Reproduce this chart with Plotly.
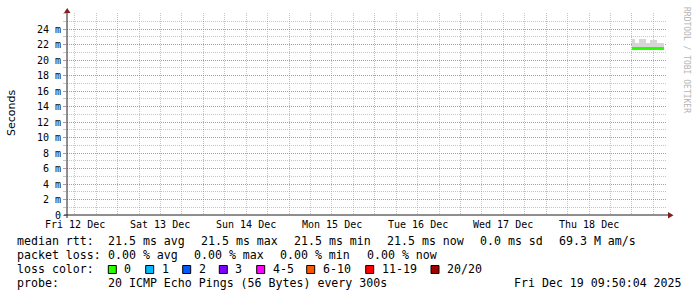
import plotly.graph_objects as go
import pandas as pd

# ---------------- data ----------------
bin_edges = ["2025-12-19 00:00", "2025-12-19 01:00", "2025-12-19 02:00", "2025-12-19 03:00",
             "2025-12-19 04:00", "2025-12-19 05:00", "2025-12-19 06:00", "2025-12-19 07:00",
             "2025-12-19 08:00", "2025-12-19 09:00"]
median_rtt_ms = [21.5, 21.5, 21.5, 21.5, 21.5, 21.5, 21.5, 21.5, 21.5]
smoke_max_ms = [22.8, 22.2, 22.7, 22.7, 22.2, 22.6, 22.6, 22.2, 22.2]

day_labels = ["Fri 12 Dec", "Sat 13 Dec", "Sun 14 Dec", "Mon 15 Dec",
              "Tue 16 Dec", "Wed 17 Dec", "Thu 18 Dec"]
day_label_times = ["2025-12-12 12:00", "2025-12-13 12:00", "2025-12-14 12:00", "2025-12-15 12:00",
                   "2025-12-16 12:00", "2025-12-17 12:00", "2025-12-18 12:00"]
y_tick_vals = [0, 2, 4, 6, 8, 10, 12, 14, 16, 18, 20, 22, 24]
y_tick_text = ["0", "2 m", "4 m", "6 m", "8 m", "10 m", "12 m", "14 m", "16 m",
               "18 m", "20 m", "22 m", "24 m"]

loss_labels = ["0", "1", "2", "3", "4-5", "6-10", "11-19", "20/20"]
loss_colors = ["#26ff00", "#00b8ff", "#0059ff", "#7e00ff", "#ff00ff", "#ff5500", "#ff0000", "#a00000"]

rtt_line = ["21.5 ms avg", "21.5 ms max", "21.5 ms min", "21.5 ms now", "0.0 ms sd", "69.3 M am/s"]
loss_line = ["0.00 % avg", "0.00 % max", "0.00 % min", "0.00 % now"]
probe_text = "20 ICMP Echo Pings (56 Bytes) every 300s"
stamp_text = "Fri Dec 19 09:50:04 2025"

range_end = pd.Timestamp("2025-12-19 09:50:04")
range_start = range_end - pd.Timedelta(days=7)

# ---------------- layout helpers ----------------
L, R, T, B = 67, 667, 13, 215
def px(x):
    return (x - L) / (R - L)
def py(y):
    return (B - y) / (B - T)

MONO = "DejaVu Sans Mono"
edges = pd.to_datetime(bin_edges)
centers = edges[:-1] + (edges[1:] - edges[:-1]) / 2
smoke_h = [m - b for m, b in zip(smoke_max_ms, median_rtt_ms)]

fig = go.Figure()
fig.add_trace(go.Bar(x=centers, y=smoke_h, base=median_rtt_ms, width=3600000,
                     marker=dict(color="#d6d6d6", line=dict(width=0)), showlegend=False))
fig.add_trace(go.Scatter(x=edges, y=median_rtt_ms + [median_rtt_ms[-1]], mode="lines",
                         line=dict(color=loss_colors[0], width=3, shape="hv"), showlegend=False))

grid_gray = "rgba(150,150,150,0.55)"
grid_red = "rgba(230,80,80,0.5)"

fig.update_layout(
    width=697, height=297,
    margin=dict(l=L, r=697 - R, t=T, b=297 - B),
    paper_bgcolor="white", plot_bgcolor="white",
    bargap=0,
    xaxis=dict(type="date", range=[range_start, range_end], tickmode="linear",
               tick0="2025-12-13 00:00", dtick=86400000, showticklabels=False,
               showgrid=True, gridcolor=grid_red, griddash="1px,1px", gridwidth=1,
               minor=dict(dtick=21600000, tick0="2025-12-13 00:00", showgrid=True,
                          gridcolor=grid_gray, griddash="1px,1px", gridwidth=1),
               showline=False, zeroline=False, ticks=""),
    yaxis=dict(range=[0, 26.1], tickmode="array", tickvals=y_tick_vals, ticktext=y_tick_text,
               showgrid=True, gridcolor=grid_red, griddash="1px,1px", gridwidth=1,
               minor=dict(dtick=1, showgrid=True, gridcolor=grid_gray, griddash="1px,1px",
                          ticks="outside", ticklen=3, tickcolor=grid_gray),
               ticks="outside", ticklen=3, tickcolor=grid_red,
               tickfont=dict(family=MONO, size=10, color="black"),
               showline=False, zeroline=False),
    font=dict(family=MONO, color="black"),
)

shapes = []
# axes
shapes.append(dict(type="line", xref="paper", yref="paper", x0=px(67), x1=px(67), y0=py(218), y1=py(12),
                   line=dict(color="#1f1f1f", width=1)))
shapes.append(dict(type="line", xref="paper", yref="paper", x0=px(64), x1=px(669), y0=py(215), y1=py(215),
                   line=dict(color="#1f1f1f", width=1)))
# arrows
shapes.append(dict(type="path", xref="paper", yref="paper",
                   path=f"M {px(64)} {py(13)} L {px(70.5)} {py(13)} L {px(67.2)} {py(8)} Z",
                   fillcolor="#801f1f", line=dict(width=0)))
shapes.append(dict(type="path", xref="paper", yref="paper",
                   path=f"M {px(668)} {py(212)} L {px(668)} {py(218.5)} L {px(673.5)} {py(215.2)} Z",
                   fillcolor="#801f1f", line=dict(width=0)))

annotations = []
for t, lab in zip(day_label_times, day_labels):
    annotations.append(dict(x=t, xref="x", y=py(224), yref="paper", text=lab, showarrow=False,
                            xanchor="center", yanchor="middle", font=dict(family=MONO, size=10, color="black")))

annotations.append(dict(x=px(11), y=py(113), xref="paper", yref="paper", text="Seconds", textangle=-90,
                        showarrow=False, xanchor="center", yanchor="middle",
                        font=dict(family="DejaVu Sans", size=11, color="black")))
annotations.append(dict(x=px(687), y=py(60), xref="paper", yref="paper", text="RRDTOOL / TOBI OETIKER",
                        textangle=90, showarrow=False, xanchor="center", yanchor="middle",
                        font=dict(family=MONO, size=8, color="#b4b4b4")))

def txt(x, y, s):
    annotations.append(dict(x=px(x), y=py(y), xref="paper", yref="paper", text=s, showarrow=False,
                            xanchor="left", yanchor="middle", font=dict(family=MONO, size=11.6, color="black")))

FS = 11.6
txt(15, 241, "median rtt:")
for x, s in zip([106, 199, 292.3, 385, 478.3, 557.3], rtt_line):
    txt(x, 241, s)
txt(15, 255, "packet loss:")
for x, s in zip([106, 192.3, 278.3, 364.7], loss_line):
    txt(x, 255, s)
txt(15, 269, "loss color:")
box_x = [108.3, 145.7, 182.7, 219.3, 256.7, 306.7, 365.7, 431]
for bx, lab, col in zip(box_x, loss_labels, loss_colors):
    shapes.append(dict(type="rect", xref="paper", yref="paper", x0=px(bx), x1=px(bx + 8),
                       y0=py(265.5), y1=py(273.5), fillcolor=col, line=dict(color="black", width=1)))
    txt(bx + 14, 269, lab)
txt(15, 283, "probe:")
txt(106, 283, probe_text)
txt(512, 283, stamp_text)

fig.update_layout(shapes=shapes, annotations=annotations)
fig.write_html("out.html")
